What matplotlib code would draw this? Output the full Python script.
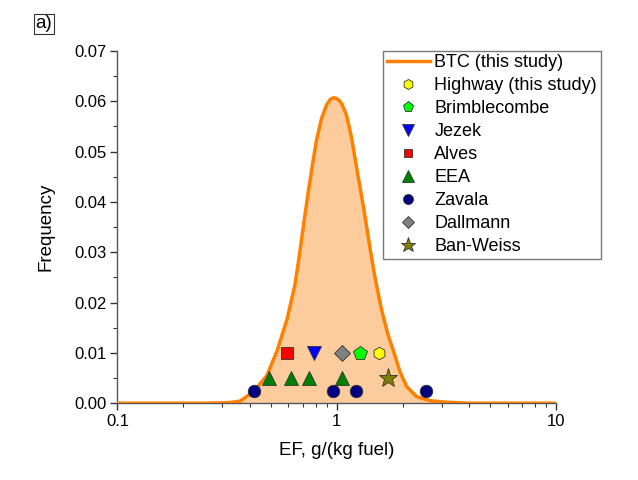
import matplotlib
matplotlib.use('Agg')
import matplotlib.pyplot as plt
from matplotlib.ticker import LogLocator, MultipleLocator, FixedFormatter, FixedLocator
import numpy as np

plt.rcParams['font.family'] = ['Liberation Sans', 'DejaVu Sans']

# BTC distribution curve
btc_ef = [0.1, 0.25, 0.32, 0.362, 0.417, 0.480, 0.535, 0.594, 0.644, 0.673,
          0.707, 0.740, 0.775, 0.808, 0.852, 0.898, 0.935, 0.969, 1.010, 1.050,
          1.107, 1.167, 1.208, 1.264, 1.328, 1.404, 1.490, 1.599, 1.713, 1.838,
          1.936, 2.080, 2.308, 2.65, 3.16, 4.0, 10.0]
btc_freq = [0.0, 0.0, 0.0001, 0.0004, 0.0023, 0.0055, 0.0105, 0.0168, 0.0235, 0.0290,
            0.0358, 0.0418, 0.0475, 0.0523, 0.0566, 0.0593, 0.0604, 0.0607, 0.0604, 0.0596,
            0.0572, 0.0527, 0.0488, 0.0438, 0.0385, 0.0318, 0.0251, 0.0185, 0.0135, 0.0095,
            0.0063, 0.0033, 0.0013, 0.0005, 0.0002, 0.0, 0.0]

# literature emission factors
highway_ef = [1.56]
highway_y = [0.01]
brimblecombe_ef = [1.28]
brimblecombe_y = [0.01]
jezek_ef = [0.79]
jezek_y = [0.01]
alves_ef = [0.59]
alves_y = [0.01]
eea_ef = [0.49, 0.62, 0.75, 1.06]
eea_y = [0.005, 0.005, 0.005, 0.005]
zavala_ef = [0.42, 0.96, 1.22, 2.55]
zavala_y = [0.0025, 0.0025, 0.0025, 0.0025]
dallmann_ef = [1.06]
dallmann_y = [0.01]
banweiss_ef = [1.71]
banweiss_y = [0.005]

fig = plt.figure(figsize=(6.38, 4.8), dpi=100)
ax = fig.add_axes([0.184, 0.160, 0.688, 0.734])

orange = '#FF8000'
ax.fill_between(btc_ef, btc_freq, 0, color='#FDCC9C', lw=0)
ax.plot(btc_ef, btc_freq, color=orange, lw=2.5, label='BTC (this study)', zorder=3,
        solid_joinstyle='round')

ms = 9
mec = '#333333'
mew = 0.6
ax.plot(highway_ef, highway_y, 'h', color='#FFFF00', ms=ms, mec=mec, mew=mew, ls='none', label='Highway (this study)', zorder=4)
ax.plot(brimblecombe_ef, brimblecombe_y, 'p', color='#00FF00', ms=ms + 1, mec=mec, mew=mew, ls='none', label='Brimblecombe', zorder=4)
ax.plot(jezek_ef, jezek_y, 'v', color='#0000FF', ms=ms + 1, mec=mec, mew=mew, ls='none', label='Jezek', zorder=4)
ax.plot(alves_ef, alves_y, 's', color='#FF0000', ms=ms - 1, mec=mec, mew=mew, ls='none', label='Alves', zorder=4)
ax.plot(eea_ef, eea_y, '^', color='#008000', ms=ms + 1, mec=mec, mew=mew, ls='none', label='EEA', zorder=4)
ax.plot(zavala_ef, zavala_y, 'o', color='#000080', ms=ms, mec=mec, mew=mew, ls='none', label='Zavala', zorder=4)
ax.plot(dallmann_ef, dallmann_y, 'D', color='#808080', ms=ms - 1, mec=mec, mew=mew, ls='none', label='Dallmann', zorder=4)
ax.plot(banweiss_ef, banweiss_y, '*', color='#808000', ms=ms + 5, mec=mec, mew=mew, ls='none', label='Ban-Weiss', zorder=4)

ax.set_xscale('log')
ax.set_xlim(0.1, 10)
ax.set_ylim(0, 0.07)
ax.xaxis.set_major_locator(FixedLocator([0.1, 1, 10]))
ax.xaxis.set_major_formatter(FixedFormatter(['0.1', '1', '10']))
ax.xaxis.set_minor_locator(LogLocator(base=10, subs=np.arange(2, 10)))
ax.xaxis.set_minor_formatter(FixedFormatter([]))
ax.yaxis.set_major_locator(MultipleLocator(0.01))
ax.yaxis.set_minor_locator(MultipleLocator(0.005))
ax.yaxis.set_major_formatter(plt.FuncFormatter(lambda v, p: '%.2f' % v))

for s in ['top', 'right']:
    ax.spines[s].set_visible(False)
for s in ['left', 'bottom']:
    ax.spines[s].set_color('#555555')
    ax.spines[s].set_linewidth(1.0)
ax.tick_params(which='both', direction='out', colors='#333333', labelcolor='black', labelsize=12)
ax.tick_params(which='major', length=5, width=1.0, pad=3)
ax.tick_params(which='minor', length=3, width=0.8)

ax.set_xlabel('EF, g/(kg fuel)', fontsize=13.5, labelpad=9)
ax.set_ylabel('Frequency', fontsize=13.5, labelpad=14)

leg = ax.legend(loc='upper left', bbox_to_anchor=(0.605, 1.0), borderaxespad=0,
                fontsize=13, frameon=True, fancybox=False, edgecolor='#555555',
                labelspacing=0.33, handlelength=2.4, handletextpad=0.25, borderpad=0.2,
                numpoints=1, markerscale=0.8)
leg.get_frame().set_linewidth(1.0)

fig.text(0.069, 0.950, 'a)', fontsize=13.5, ha='center', va='center',
         bbox=dict(boxstyle='square,pad=0.1', fc='white', ec='#333333', lw=0.8))

fig.savefig('out.png', dpi=100)
